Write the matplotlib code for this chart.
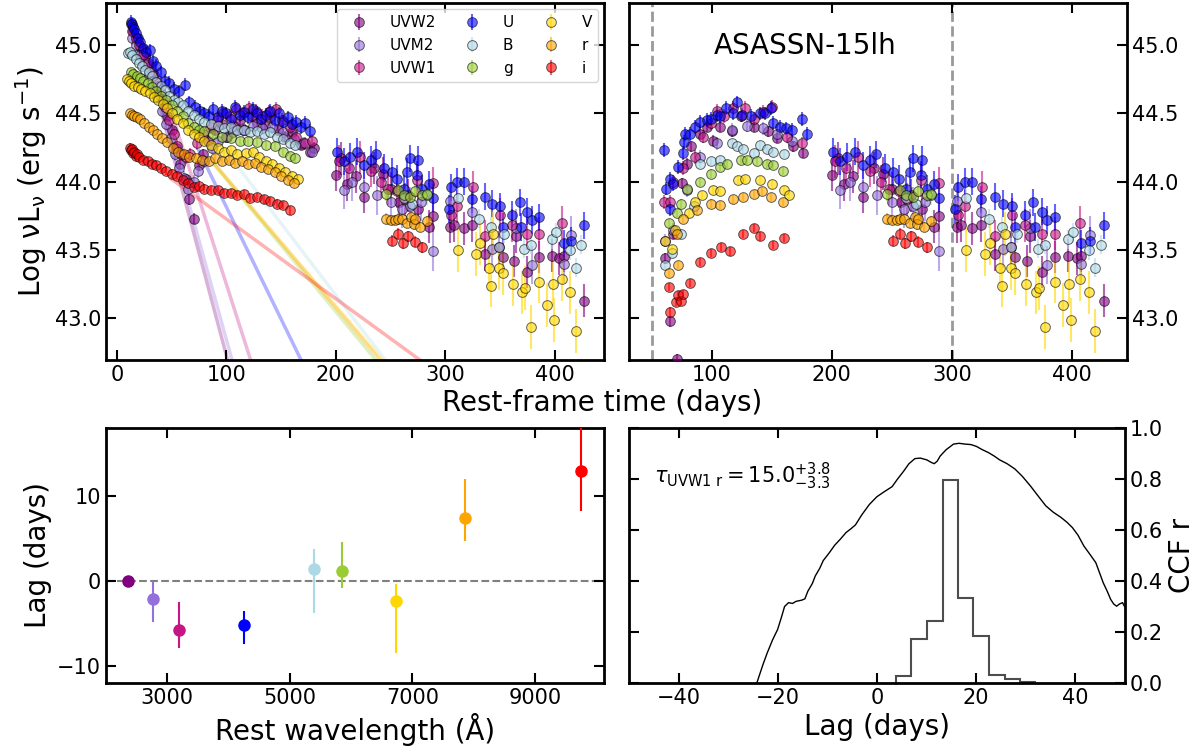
import matplotlib
matplotlib.use('Agg')
import matplotlib.pyplot as plt
import numpy as np


# Фильтры и их цвета.
bands = ['UVW2', 'UVM2', 'UVW1', 'U', 'B', 'g', 'V', 'r', 'i']
colors = ['purple', 'mediumpurple', 'mediumvioletred', 'blue', 'lightblue',
          'yellowgreen', 'gold', 'orange', 'red']

# Кривые блеска: ранняя часть (до 180 дней), часть после вычитания спада и поздняя часть.
t_uvw2_early = [13, 15, 18, 22, 26, 30, 34, 38, 42, 46, 50, 54, 58, 63, 66, 70, 75, 79, 83, 90,
                96, 101, 107, 112, 117, 123, 128, 135, 140, 147, 154, 160, 168, 176, 180]
l_uvw2_early = [45.15, 45.10, 45.05, 44.98, 44.92, 44.85, 44.78, 44.70, 44.60, 44.48, 44.38, 44.25,
                44.13, 44.02, 43.87, 43.73, 44.12, 44.20, 44.30, 44.38, 44.42, 44.33, 44.41, 44.45,
                44.38, 44.48, 44.43, 44.41, 44.47, 44.38, 44.33, 44.36, 44.27, 44.22, 44.25]
t_uvw2_sub = [61, 65, 68, 71, 75, 79, 83, 90, 96, 101, 107, 117, 124, 135, 147, 154, 168, 176]
l_uvw2_sub = [43.44, 42.98, 43.62, 42.70, 43.99, 44.13, 44.26, 44.35, 44.40, 44.30, 44.40, 44.37,
              44.48, 44.40, 44.37, 44.32, 44.26, 44.21]
t_uvw2_late = [200, 205, 210, 218, 226, 235, 243, 250, 258, 266, 275, 285, 289, 304, 308, 317, 324,
               336, 349, 353, 363, 365, 375, 386, 397, 404, 408, 427]
l_uvw2_late = [44.05, 44.17, 43.98, 44.04, 43.89, 44.10, 44.06, 43.95, 43.85, 43.90, 43.80, 43.67,
               43.75, 43.67, 43.68, 43.66, 43.68, 43.47, 43.52, 43.45, 43.42, 43.60, 43.34, 43.45,
               43.46, 43.44, 43.46, 43.13]

t_uvm2_early = [14, 17, 21, 25, 29, 33, 37, 41, 45, 49, 53, 57, 61, 65, 70, 74, 80, 87, 92, 100,
                106, 115, 124, 133, 142, 152, 162, 170, 178]
l_uvm2_early = [45.05, 45.00, 44.93, 44.86, 44.78, 44.70, 44.62, 44.52, 44.42, 44.32, 44.20, 44.10,
                44.03, 43.95, 44.00, 44.08, 44.15, 44.25, 44.30, 44.33, 44.36, 44.38, 44.41, 44.39,
                44.40, 44.36, 44.31, 44.28, 44.22]
t_uvm2_sub = [61, 68, 79, 90, 104, 117, 129, 143, 154, 167]
l_uvm2_sub = [43.57, 43.65, 43.94, 44.18, 44.28, 44.38, 44.41, 44.39, 44.35, 44.30]
t_uvm2_late = [207, 215, 226, 238, 250, 260, 268, 278, 289, 304, 324, 343, 365, 379, 408, 415]
l_uvm2_late = [43.94, 44.00, 43.96, 43.90, 43.85, 43.80, 43.82, 43.85, 43.49, 43.86, 43.78, 43.51,
               43.66, 43.39, 43.40, 43.61]

t_uvw1_early = [14, 17, 20, 24, 28, 32, 36, 40, 44, 48, 52, 55, 59, 63, 67, 73, 79, 85, 91, 97,
                103, 109, 115, 121, 127, 133, 139, 145, 151, 158, 164, 172, 178]
l_uvw1_early = [45.10, 45.05, 45.00, 44.93, 44.87, 44.80, 44.73, 44.65, 44.55, 44.45, 44.35, 44.26,
                44.20, 44.18, 44.20, 44.28, 44.35, 44.40, 44.45, 44.50, 44.48, 44.53, 44.50, 44.54,
                44.52, 44.48, 44.51, 44.53, 44.45, 44.40, 44.33, 44.28, 44.30]
t_uvw1_sub = [60, 65, 68, 76, 86, 93, 99, 104, 110, 118, 128, 135, 143, 150, 163, 175]
l_uvw1_sub = [43.85, 43.85, 44.00, 44.10, 44.18, 44.33, 44.43, 44.52, 44.48, 44.54, 44.54, 44.46,
              44.51, 44.55, 44.33, 44.28]
t_uvw1_late = [203, 212, 222, 232, 241, 248, 256, 263, 274, 289, 305, 311, 325, 336, 350, 361, 375,
               386, 407]
l_uvw1_late = [44.15, 44.10, 44.18, 44.08, 44.00, 43.95, 43.93, 43.87, 44.01, 43.99, 43.76, 43.82,
               43.96, 43.60, 43.76, 43.68, 43.62, 43.62, 43.70]

t_u_early = [13, 14, 15, 16, 17, 19, 21, 24, 27, 30, 33, 36, 40, 44, 48, 52, 57, 62, 66, 71, 76, 80,
             84, 88, 92, 96, 100, 104, 108, 112, 116, 120, 124, 128, 132, 136, 140, 144, 148, 152,
             156, 160, 164, 168, 172, 176]
l_u_early = [45.17, 45.15, 45.13, 45.12, 45.09, 45.05, 45.02, 44.98, 44.95, 44.96, 44.88, 44.85,
             44.80, 44.74, 44.72, 44.68, 44.66, 44.71, 44.58, 44.55, 44.52, 44.50, 44.48, 44.53,
             44.47, 44.52, 44.50, 44.46, 44.55, 44.49, 44.51, 44.47, 44.53, 44.50, 44.46, 44.49,
             44.52, 44.45, 44.50, 44.44, 44.47, 44.42, 44.44, 44.40, 44.43, 44.37]
t_u_sub = [60, 62, 65, 65, 68, 72, 76, 77, 78, 82, 86, 90, 96, 99, 104, 107, 112, 118, 121, 125,
           133, 140, 144, 149, 151, 157, 162, 167, 175, 179]
l_u_sub = [44.23, 43.95, 44.02, 43.80, 43.98, 44.11, 44.21, 44.29, 44.35, 44.35, 44.40, 44.44,
           44.45, 44.46, 44.49, 44.48, 44.54, 44.50, 44.58, 44.49, 44.48, 44.50, 44.50, 44.54,
           44.43, 44.40, 44.39, 44.38, 44.46, 44.35]
t_u_late = [201, 207, 213, 219, 226, 232, 237, 244, 251, 256, 262, 265, 268, 274, 275, 279, 285,
            289, 303, 305, 311, 317, 324, 336, 343, 350, 353, 361, 368, 369, 375, 379, 386, 408,
            415, 427]
l_u_late = [44.22, 44.15, 44.18, 44.22, 44.12, 44.16, 44.20, 44.10, 44.07, 44.02, 43.95, 44.07,
            44.17, 44.05, 44.16, 43.95, 43.98, 43.88, 43.80, 43.96, 44.00, 44.00, 43.87, 43.89,
            43.84, 43.82, 43.67, 43.76, 43.85, 43.67, 43.78, 43.72, 43.74, 43.55, 43.57, 43.68]

t_b_early = [10, 12, 14, 17, 20, 23, 26, 29, 32, 36, 40, 44, 48, 52, 56, 60, 65, 70, 75, 80, 86,
             92, 98, 104, 110, 116, 122, 128, 134, 140, 146, 152, 158, 163]
l_b_early = [44.94, 44.95, 44.93, 44.90, 44.87, 44.85, 44.82, 44.80, 44.77, 44.73, 44.70, 44.67,
             44.63, 44.60, 44.58, 44.56, 44.52, 44.49, 44.46, 44.44, 44.42, 44.41, 44.39, 44.40,
             44.38, 44.38, 44.36, 44.37, 44.35, 44.36, 44.33, 44.31, 44.28, 44.27]
t_b_sub = [61, 67, 74, 85, 90, 99, 107, 117, 121, 126, 135, 140, 146, 151, 160]
l_b_sub = [43.39, 43.48, 43.62, 43.82, 44.13, 44.15, 44.16, 44.28, 44.26, 44.24, 44.21, 44.27,
           44.24, 44.22, 44.20]
t_b_late = [262, 270, 283, 312, 331, 342, 349, 354, 372, 378, 397, 401, 414, 419, 424]
l_b_late = [43.88, 43.84, 43.90, 43.88, 43.73, 43.67, 43.52, 43.62, 43.51, 43.54, 43.58, 43.63,
            43.50, 43.37, 43.54]

t_g_early = [13, 15, 18, 21, 24, 28, 32, 36, 40, 45, 50, 55, 60, 65, 70, 75, 80, 88, 96, 104, 112,
             120, 128, 136, 144, 152, 158, 163]
l_g_early = [44.80, 44.79, 44.77, 44.76, 44.74, 44.72, 44.69, 44.66, 44.63, 44.60, 44.56, 44.52,
             44.48, 44.43, 44.40, 44.38, 44.37, 44.35, 44.33, 44.32, 44.30, 44.30, 44.29, 44.27,
             44.26, 44.22, 44.19, 44.17]
t_g_sub = [64, 71, 74, 79, 90, 99, 107, 113, 124, 129, 138, 146, 151, 159]
l_g_sub = [43.70, 43.77, 43.84, 43.95, 44.00, 44.06, 44.11, 44.13, 44.16, 44.16, 44.15, 44.13,
           44.12, 44.08]
t_g_late = [246, 257, 262, 268, 272, 279, 283]
l_g_late = [43.91, 43.94, 43.90, 43.89, 43.93, 43.90, 43.91]

t_v_early = [9, 11, 13, 16, 19, 22, 26, 30, 34, 38, 42, 46, 50, 55, 60, 65, 70, 75, 80, 86, 92, 98,
             104, 110, 118, 124, 130, 136, 142, 148, 154, 160, 165]
l_v_early = [44.75, 44.74, 44.72, 44.70, 44.69, 44.68, 44.66, 44.65, 44.62, 44.60, 44.57, 44.54,
             44.50, 44.46, 44.43, 44.38, 44.35, 44.33, 44.30, 44.27, 44.25, 44.22, 44.23, 44.20,
             44.21, 44.22, 44.18, 44.15, 44.13, 44.10, 44.07, 44.04, 44.02]
t_v_sub = [61, 67, 69, 81, 86, 92, 101, 107, 122, 128, 140, 150, 160, 164]
l_v_sub = [43.57, 43.51, 43.65, 43.77, 43.85, 43.90, 43.94, 43.93, 44.01, 44.02, 44.01, 43.98,
           43.94, 43.90]
t_v_late = [312, 328, 332, 340, 342, 344, 349, 353, 362, 370, 373, 378, 386, 393, 398, 399, 407,
            414, 419]
l_v_late = [43.50, 43.47, 43.55, 43.37, 43.24, 43.62, 43.37, 43.33, 43.25, 43.19, 43.22, 42.94,
            43.27, 43.10, 43.25, 42.99, 43.29, 43.19, 42.91]

t_r_early = [12, 14, 16, 18, 21, 25, 29, 33, 37, 41, 46, 51, 56, 61, 66, 72, 78, 84, 90, 96, 102,
             108, 114, 120, 126, 132, 138, 144, 150, 156, 162]
l_r_early = [44.50, 44.49, 44.48, 44.47, 44.46, 44.43, 44.40, 44.38, 44.35, 44.32, 44.29, 44.25,
             44.22, 44.20, 44.18, 44.17, 44.16, 44.15, 44.17, 44.15, 44.16, 44.14, 44.15, 44.13,
             44.14, 44.11, 44.09, 44.07, 44.04, 44.01, 43.99]
t_r_sub = [64, 71, 72, 76, 88, 99, 107, 118, 126, 135, 142, 149, 159]
l_r_sub = [43.33, 43.62, 43.39, 43.73, 43.79, 43.84, 43.83, 43.87, 43.89, 43.91, 43.93, 43.89,
           43.85]
t_r_late = [246, 250, 254, 257, 260, 265, 269, 271, 272, 277, 283]
l_r_late = [43.73, 43.72, 43.72, 43.73, 43.73, 43.70, 43.74, 43.69, 43.73, 43.67, 43.71]

t_i_early = [12, 13, 14, 15, 16, 17, 18, 20, 24, 28, 32, 36, 40, 45, 50, 55, 60, 65, 70, 75, 80,
             86, 92, 98, 104, 110, 116, 122, 128, 134, 140, 146, 152, 158]
l_i_early = [44.25, 44.23, 44.24, 44.21, 44.22, 44.19, 44.20, 44.18, 44.16, 44.15, 44.13, 44.12,
             44.10, 44.08, 44.06, 44.04, 44.01, 43.99, 43.96, 43.97, 43.95, 43.94, 43.94, 43.92,
             43.92, 43.90, 43.91, 43.88, 43.89, 43.87, 43.86, 43.84, 43.83, 43.79]
t_i_sub = [64, 65, 70, 72, 74, 76, 82, 90, 99, 108, 115, 126, 135, 140, 151, 160]
l_i_sub = [43.23, 43.05, 43.12, 43.17, 43.13, 43.18, 43.26, 43.41, 43.48, 43.52, 43.49, 43.62,
           43.66, 43.60, 43.54, 43.59]
t_i_late = [251, 257, 261, 266, 272, 279]
l_i_late = [43.57, 43.62, 43.55, 43.60, 43.56, 43.52]

# Типичные ошибки для ранней и поздней части.
err_early = [0.04, 0.05, 0.05, 0.05, 0.03, 0.03, 0.03, 0.03, 0.03]
err_late = [0.12, 0.14, 0.12, 0.10, 0.07, 0.05, 0.16, 0.04, 0.04]

# Параметры линейного спада (log L = a + b t) и начало линии.
fit_a = [45.73, 45.745, 45.75, 45.455, 45.27, 44.99, 44.95, 44.98, 44.31]
fit_b = [-0.030, -0.029, -0.025, -0.0164, -0.0105, -0.0097, -0.0093, -0.0095, -0.00583]
fit_t0 = [40, 40, 40, 75, 90, 90, 90, 90, 50]

# Задержки относительно UVW2.
wavelength = [2360, 2760, 3190, 4260, 5400, 5850, 6730, 7860, 9750]
lag = [0.0, -2.16, -5.73, -5.17, 1.44, 1.18, -2.32, 7.45, 12.9]
lag_err_lo = [0.0, 2.7, 2.1, 2.3, 5.2, 2.0, 6.2, 2.8, 4.7]
lag_err_hi = [0.0, 2.2, 3.2, 1.6, 2.3, 3.4, 2.0, 4.6, 5.5]

# Кросс-корреляционная функция UVW1 - r.
ccf_lag = [-24.2, -23.0, -22.1, -21.0, -20.0, -19.2, -18.6, -17.8, -17.0, -16.3, -15.1, -14.5,
           -13.9, -13.0, -12.4, -11.5, -10.8, -9.6, -8.5, -7.3, -6.2, -5.2, -4.3, -3.0, -1.5, 0.0,
           1.5, 3.1, 4.2, 5.4, 6.5, 7.7, 8.8, 10.1, 11.0, 11.6, 12.2, 12.8, 14.0, 15.5, 16.6, 17.8,
           19.0, 20.1, 21.3, 22.5, 23.7, 24.8, 26.3, 27.9, 29.4, 31.0, 32.5, 34.1, 35.6, 37.2, 38.4,
           39.5, 40.6, 41.8, 43.0, 44.2, 45.0, 45.7, 46.5, 47.2, 47.8, 48.4, 49.0, 49.6, 50.0]
ccf_r = [0.0, 0.07, 0.118, 0.17, 0.21, 0.26, 0.30, 0.315, 0.312, 0.32, 0.325, 0.33, 0.36, 0.39,
         0.42, 0.45, 0.48, 0.51, 0.54, 0.565, 0.59, 0.605, 0.62, 0.66, 0.70, 0.73, 0.75, 0.77, 0.80,
         0.83, 0.86, 0.88, 0.882, 0.875, 0.865, 0.86, 0.87, 0.89, 0.915, 0.937, 0.94, 0.937, 0.935,
         0.928, 0.915, 0.904, 0.89, 0.875, 0.86, 0.839, 0.81, 0.773, 0.735, 0.695, 0.67, 0.649,
         0.63, 0.609, 0.58, 0.537, 0.505, 0.472, 0.43, 0.393, 0.36, 0.328, 0.31, 0.301, 0.31,
         0.315, 0.30]

# Распределение центроидов задержки.
hist_edges = [3.9, 7.0, 10.1, 13.3, 16.4, 19.5, 22.6, 25.8, 28.9, 32.0]
hist_vals = [0.026, 0.173, 0.245, 0.797, 0.334, 0.183, 0.033, 0.016, 0.005]

early = [(t_uvw2_early, l_uvw2_early), (t_uvm2_early, l_uvm2_early), (t_uvw1_early, l_uvw1_early),
         (t_u_early, l_u_early), (t_b_early, l_b_early), (t_g_early, l_g_early),
         (t_v_early, l_v_early), (t_r_early, l_r_early), (t_i_early, l_i_early)]
sub = [(t_uvw2_sub, l_uvw2_sub), (t_uvm2_sub, l_uvm2_sub), (t_uvw1_sub, l_uvw1_sub),
       (t_u_sub, l_u_sub), (t_b_sub, l_b_sub), (t_g_sub, l_g_sub),
       (t_v_sub, l_v_sub), (t_r_sub, l_r_sub), (t_i_sub, l_i_sub)]
late = [(t_uvw2_late, l_uvw2_late), (t_uvm2_late, l_uvm2_late), (t_uvw1_late, l_uvw1_late),
        (t_u_late, l_u_late), (t_b_late, l_b_late), (t_g_late, l_g_late),
        (t_v_late, l_v_late), (t_r_late, l_r_late), (t_i_late, l_i_late)]


# Оформление осей.
def style_axes(ax):
    ax.tick_params(direction='in', top=True, right=True, length=7, width=1.5, labelsize=15)
    for spine in ax.spines.values():
        spine.set_linewidth(2)


# Точки одной кривой блеска с ошибками.
def draw_band(ax, t, l, err, color, label=None):
    return ax.errorbar(t, l, yerr=err, fmt='o', color=color, ms=7, mec='k', mew=0.7,
                       elinewidth=1.5, capsize=0, alpha=0.6, label=label, zorder=3)


fig = plt.figure(figsize=(12.04, 7.55), dpi=100)
ax1 = fig.add_axes([0.088, 0.523, 0.4137, 0.473])
ax2 = fig.add_axes([0.5224, 0.523, 0.4136, 0.473])
ax3 = fig.add_axes([0.088, 0.0954, 0.4137, 0.3377])
ax4 = fig.add_axes([0.5224, 0.0954, 0.4116, 0.3377])

# Левая верхняя панель: наблюдаемые кривые блеска и линии спада.
handles = []
for k in range(len(bands)):
    t = np.concatenate([early[k][0], late[k][0]])
    l = np.concatenate([early[k][1], late[k][1]])
    e = np.concatenate([np.full(len(early[k][0]), err_early[k]),
                        np.full(len(late[k][0]), err_late[k])])
    h = draw_band(ax1, t, l, e, colors[k], bands[k])
    handles.append(h)
    tt = np.array([fit_t0[k], 450.0])
    ax1.plot(tt, fit_a[k] + fit_b[k] * tt, color=colors[k], lw=2.5, alpha=0.3, zorder=1)

ax1.set_xlim(-10, 445)
ax1.set_ylim(42.695, 45.307)
ax1.set_xticks([0, 100, 200, 300, 400])
ax1.set_yticks([43.0, 43.5, 44.0, 44.5, 45.0])
ax1.set_ylabel(r'Log νL$_\mathregular{ν}$ (erg s$^{-1}$)', fontsize=20)
style_axes(ax1)
ax1.legend(handles=handles, ncol=3, fontsize=11, loc='upper right', columnspacing=1.4,
           handletextpad=1.0, borderaxespad=0.4)

# Правая верхняя панель: кривые блеска после вычитания спада.
for k in range(len(bands)):
    t = np.concatenate([sub[k][0], late[k][0]])
    l = np.concatenate([sub[k][1], late[k][1]])
    e = np.concatenate([np.full(len(sub[k][0]), err_early[k]),
                        np.full(len(late[k][0]), err_late[k])])
    draw_band(ax2, t, l, e, colors[k])

ax2.axvline(50, color='gray', ls='--', lw=2, alpha=0.8, zorder=1)
ax2.axvline(300, color='gray', ls='--', lw=2, alpha=0.8, zorder=1)
ax2.text(0.353, 0.88, 'ASASSN-15lh', transform=ax2.transAxes, ha='center', va='center',
         fontsize=20)
ax2.set_xlim(31, 446)
ax2.set_ylim(42.695, 45.307)
ax2.set_xticks([100, 200, 300, 400])
ax2.set_yticks([43.0, 43.5, 44.0, 44.5, 45.0])
style_axes(ax2)
ax2.tick_params(labelleft=False, labelright=True)

fig.text(0.5, 0.466, 'Rest-frame time (days)', ha='center', va='center', fontsize=20)

# Левая нижняя панель: задержка от длины волны.
ax3.axhline(0, color='gray', ls='--', lw=1.5, zorder=1)
for k in range(len(bands)):
    ax3.errorbar(wavelength[k], lag[k], yerr=[[lag_err_lo[k]], [lag_err_hi[k]]], fmt='o',
                 color=colors[k], ms=8, elinewidth=1.5, capsize=0, zorder=3)
ax3.set_xlim(2000, 10130)
ax3.set_ylim(-12, 18)
ax3.set_xticks([3000, 5000, 7000, 9000])
ax3.set_yticks([-10, 0, 10])
ax3.set_xlabel('Rest wavelength (Å)', fontsize=20)
ax3.set_ylabel('Lag (days)', fontsize=20)
style_axes(ax3)

# Правая нижняя панель: CCF и распределение центроидов.
ax4.plot(ccf_lag, ccf_r, color='k', lw=1)
ax4.stairs(hist_vals, hist_edges, color='0.3', lw=1.5)
ax4.text(0.05, 0.81, r'$\tau_{\rm UVW1\ r} = 15.0^{+3.8}_{-3.3}$', transform=ax4.transAxes,
         ha='left', va='center', fontsize=15)
ax4.set_xlim(-50, 50)
ax4.set_ylim(0, 1)
ax4.set_xticks([-40, -20, 0, 20, 40])
ax4.set_yticks([0.0, 0.2, 0.4, 0.6, 0.8, 1.0])
ax4.set_xlabel('Lag (days)', fontsize=20)
ax4.set_ylabel('CCF r', fontsize=20)
ax4.yaxis.set_label_position('right')
style_axes(ax4)
ax4.tick_params(labelleft=False, labelright=True)

fig.savefig('out.png', dpi=100)
